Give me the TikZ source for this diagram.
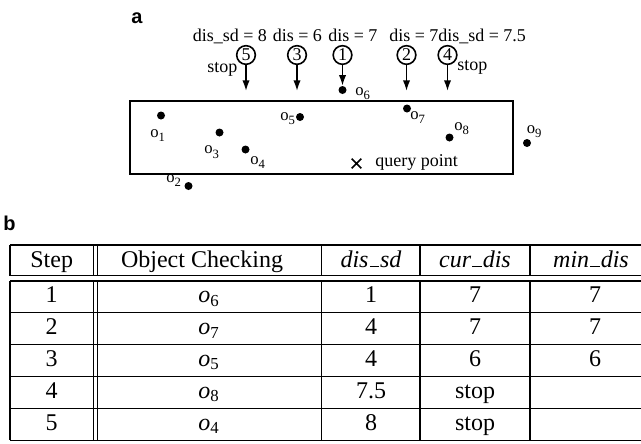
\documentclass[tikz,border=0pt]{standalone}
\usepackage{fontspec}
\setmainfont{Liberation Serif}
\setsansfont{Liberation Sans}
\usetikzlibrary{arrows.meta,shapes.misc}

\newcommand{\osub}[1]{o\raisebox{-3.5pt}{\fontsize{9.5}{9.5}\selectfont #1}}
\newcommand{\usc}{\kern0.05em\rule{0.38em}{0.06em}\kern0.05em}

\begin{document}
\begin{tikzpicture}[x=0.75pt,y=-0.75pt,
    obj/.style={circle,fill=black,inner sep=0pt,minimum size=6pt},
    olab/.style={anchor=base west,inner sep=0pt,font=\fontsize{12.5}{12.5}\selectfont},
    stepnum/.style={draw=black,line width=1.2pt,circle,inner sep=0pt,minimum size=14pt,font=\fontsize{13.5}{13.5}\selectfont},
    txt/.style={anchor=base west,inner sep=0pt,font=\fontsize{13.5}{16}\selectfont},
    cell/.style={anchor=base,inner sep=0pt,font=\fontsize{18}{20}\selectfont},
    ptr/.style={-{Latex[length=8pt,width=5.5pt]},line width=1.2pt},
    panel/.style={anchor=base west,inner sep=0pt,font=\fontsize{15}{15}\selectfont\sffamily\bfseries}]
    \useasboundingbox (0,0) rectangle (641,443);

    % (a) search region
    \node[panel] (pa) at (131,23) {a};
    \draw[line width=1.5pt] (130,101) rectangle (513,173.5);

    \node[obj] (o1) at (161,115.5) {};
    \node[obj] (o2) at (188.5,186) {};
    \node[obj] (o3) at (219.5,132.5) {};
    \node[obj] (o4) at (245.5,149.5) {};
    \node[obj] (o5) at (300,117) {};
    \node[obj] (o6) at (342.5,90) {};
    \node[obj] (o7) at (407,108.5) {};
    \node[obj] (o8) at (449.5,137.5) {};
    \node[obj] (o9) at (527,143) {};

    \node[olab] (l1) at (150,137) {\osub{1}};
    \node[olab] (l2) at (166,182) {\osub{2}};
    \node[olab] (l3) at (204,153.5) {\osub{3}};
    \node[olab] (l4) at (250,164) {\osub{4}};
    \node[olab] (l5) at (280,120) {\osub{5}};
    \node[olab] (l6) at (355,95) {\osub{6}};
    \node[olab] (l7) at (410,119) {\osub{7}};
    \node[olab] (l8) at (454,130) {\osub{8}};
    \node[olab] (l9) at (526.5,133) {\osub{9}};

    \node[cross out,draw=black,line width=1.3pt,inner sep=0pt,minimum size=6pt] (q) at (356.5,163.5) {};
    \node[txt] (ql) at (375,166.5) {query point};

    \node[txt] (d5) at (192.5,41) {dis\_sd = 8};
    \node[txt] (d3) at (272.5,41) {dis = 6};
    \node[txt] (d1) at (328,41) {dis = 7};
    \node[txt] (d2) at (389,41) {dis = 7};
    \node[txt] (d4) at (438,41) {dis\_sd = 7.5};

    \node[stepnum] (c5) at (246,55) {5};
    \node[stepnum] (c3) at (297,55) {3};
    \node[stepnum] (c1) at (342.5,55) {1};
    \node[stepnum] (c2) at (406.5,55) {2};
    \node[stepnum] (c4) at (447.5,55) {4};

    \coordinate (t5) at (246,91);
    \coordinate (t3) at (297,91);
    \coordinate (t2) at (406.5,91);
    \coordinate (t4) at (447.5,91);

    \draw[ptr] (c5) -- (t5);
    \draw[ptr] (c3) -- (t3);
    \draw[ptr] (c1) -- (o6);
    \draw[ptr] (c2) -- (t2);
    \draw[ptr] (c4) -- (t4);

    \node[txt] (s5) at (207,72) {stop};
    \node[txt] (s4) at (457,70) {stop};

    % (b) table
    \node[panel] (pb) at (3,230) {b};
    \draw[line width=1.1pt] (10,245) -- (641,245) (10,275.5) -- (641,275.5);
    \draw[line width=1.1pt] (10,280.8) -- (641,280.8) (10,312.7) -- (641,312.7)
        (10,344.6) -- (641,344.6) (10,376.5) -- (641,376.5)
        (10,408.4) -- (641,408.4) (10,440.3) -- (641,440.3);
    \draw[line width=1.1pt] (10,245) -- (10,275.5) (93.3,245) -- (93.3,275.5)
        (97.7,245) -- (97.7,275.5) (321.7,245) -- (321.7,275.5)
        (420,245) -- (420,275.5) (530,245) -- (530,275.5);
    \draw[line width=1.1pt] (10,280.8) -- (10,440.3) (93.3,280.8) -- (93.3,440.3)
        (97.7,280.8) -- (97.7,440.3) (321.7,280.8) -- (321.7,440.3)
        (420,280.8) -- (420,440.3) (530,280.8) -- (530,440.3);

    \node[cell] (h1) at (51.7,267) {Step};
    \node[cell] (h2) at (202,267) {Object Checking};
    \node[cell] (h3) at (371,267) {\textit{dis\usc sd}};
    \node[cell] (h4) at (475,267) {\textit{cur\usc dis}};
    \node[cell] (h5) at (591,267) {\textit{min\usc dis}};

    \node[cell] (r1a) at (51.7,302.7) {1};
    \node[cell] (r1b) at (209,302.7) {\textit{o}\textsubscript{6}};
    \node[cell] (r1c) at (371,302.7) {1};
    \node[cell] (r1d) at (475,302.7) {7};
    \node[cell] (r1e) at (595,302.7) {7};

    \node[cell] (r2a) at (51.7,334.6) {2};
    \node[cell] (r2b) at (209,334.6) {\textit{o}\textsubscript{7}};
    \node[cell] (r2c) at (371,334.6) {4};
    \node[cell] (r2d) at (475,334.6) {7};
    \node[cell] (r2e) at (595,334.6) {7};

    \node[cell] (r3a) at (51.7,366.5) {3};
    \node[cell] (r3b) at (209,366.5) {\textit{o}\textsubscript{5}};
    \node[cell] (r3c) at (371,366.5) {4};
    \node[cell] (r3d) at (475,366.5) {6};
    \node[cell] (r3e) at (595,366.5) {6};

    \node[cell] (r4a) at (51.7,398.4) {4};
    \node[cell] (r4b) at (209,398.4) {\textit{o}\textsubscript{8}};
    \node[cell] (r4c) at (371,398.4) {7.5};
    \node[cell] (r4d) at (475,398.4) {stop};

    \node[cell] (r5a) at (51.7,430.3) {5};
    \node[cell] (r5b) at (209,430.3) {\textit{o}\textsubscript{4}};
    \node[cell] (r5c) at (371,430.3) {8};
    \node[cell] (r5d) at (475,430.3) {stop};
\end{tikzpicture}
\end{document}
